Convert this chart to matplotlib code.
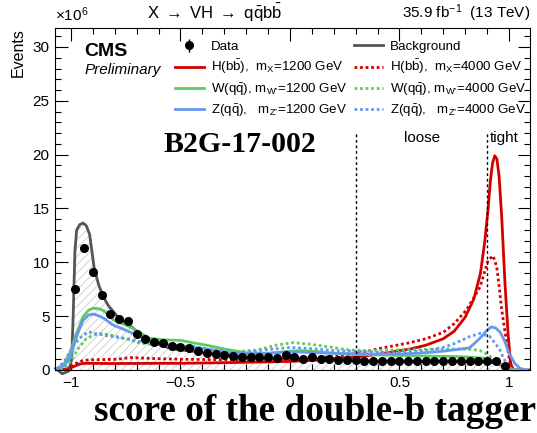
import numpy as np
import matplotlib
matplotlib.use("Agg")
import matplotlib.pyplot as plt

plt.rcParams['font.family'] = ['Liberation Sans', 'DejaVu Sans']
plt.rcParams['mathtext.fontset'] = 'custom'
plt.rcParams['mathtext.rm'] = 'Liberation Sans'
plt.rcParams['mathtext.it'] = 'Liberation Sans:italic'
plt.rcParams['mathtext.bf'] = 'Liberation Sans:bold'
plt.rcParams['hatch.linewidth'] = 0.6

# data points (bin centres, in units of 1e6 events)
data_x = np.round(np.arange(-0.98, 1.0, 0.04), 2)
data_y = [7.5, 11.35, 9.1, 6.95, 5.17, 4.7, 4.55, 3.34, 2.9, 2.57,
          2.54, 2.23, 2.1, 2.03, 1.77, 1.62, 1.52, 1.4, 1.33, 1.24,
          1.18, 1.2, 1.18, 1.12, 1.35, 1.18, 1.0, 1.18, 1.02, 0.99,
          0.93, 0.9, 0.9, 0.85, 0.86, 0.85, 0.85, 0.84, 0.85, 0.84,
          0.84, 0.84, 0.85, 0.85, 0.84, 0.85, 0.86, 0.86, 0.86, 0.37]

# background
bkg_x = [-1.07, -1.04, -1.01, -0.997, -0.99, -0.982, -0.974, -0.96, -0.945, -0.93,
         -0.915, -0.895, -0.875, -0.855, -0.83, -0.81, -0.785, -0.76, -0.74, -0.715,
         -0.69, -0.67, -0.64, -0.61, -0.56, -0.52, -0.45, -0.4, -0.3, -0.2,
         -0.1, 0.0, 0.1, 0.2, 0.3, 0.4, 0.5, 0.6, 0.7, 0.8,
         0.9, 0.94, 0.97, 0.99, 1.01, 1.04]
bkg_y = [0.15, -0.35, -0.1, 1.0, 5.0, 11.0, 13.0, 13.5, 13.65, 13.4,
         12.6, 9.6, 8.0, 6.9, 6.0, 5.5, 4.9, 4.5, 4.25, 3.87,
         3.4, 3.1, 2.7, 2.45, 2.1, 1.92, 1.75, 1.62, 1.38, 1.18,
         1.05, 1.0, 0.95, 0.9, 0.85, 0.82, 0.8, 0.79, 0.78, 0.77,
         0.75, 0.65, 0.4, 0.15, 0.02, 0.0]

# H(bb), mX = 1200 GeV
h1_x = [-1.05, -1.02, -0.99, -0.96, -0.94, -0.8, -0.6, -0.5, -0.3, -0.1,
        0.0, 0.1, 0.2, 0.3, 0.4, 0.47, 0.55, 0.62, 0.70, 0.75,
        0.80, 0.84, 0.87, 0.89, 0.905, 0.915, 0.925, 0.935, 0.945, 0.955,
        0.967, 0.982, 0.997, 1.008, 1.02, 1.1]
h1_y = [0.0, 0.1, 0.3, 0.55, 0.62, 0.6, 0.62, 0.62, 0.68, 0.75,
        0.8, 0.9, 1.05, 1.2, 1.45, 1.7, 1.95, 2.3, 2.9, 3.6,
        4.9, 6.6, 9.0, 12.0, 15.0, 17.5, 19.2, 19.9, 19.6, 18.0,
        14.2, 8.0, 3.1, 0.6, 0.0, 0.0]

# H(bb), mX = 4000 GeV
h4_x = [-1.05, -1.02, -0.99, -0.944, -0.9, -0.79, -0.73, -0.6, -0.5, -0.3,
        -0.09, 0.06, 0.21, 0.32, 0.41, 0.548, 0.62, 0.70, 0.75, 0.807,
        0.868, 0.905, 0.928, 0.944, 0.955, 0.967, 0.98, 0.99, 1.005, 1.02]
h4_y = [0.0, 0.15, 0.5, 0.9, 0.95, 1.0, 1.15, 1.05, 1.0, 0.95,
        1.0, 1.1, 1.25, 1.6, 2.0, 2.54, 2.9, 3.5, 4.3, 5.6,
        7.7, 10.2, 10.6, 9.6, 7.8, 5.6, 3.8, 2.5, 0.6, 0.0]

# W(qq), mW' = 1200 GeV
w1_x = [-1.065, -1.03, -1.005, -0.975, -0.945, -0.92, -0.90, -0.875, -0.85, -0.81,
        -0.78, -0.75, -0.70, -0.64, -0.58, -0.50, -0.45, -0.38, -0.30, -0.20,
        -0.10, 0.0, 0.05, 0.10, 0.20, 0.30, 0.40, 0.50, 0.60, 0.70,
        0.78, 0.85, 0.90, 0.94, 0.97, 0.99, 1.02, 1.06]
w1_y = [0.1, 0.6, 1.6, 3.4, 4.95, 5.55, 5.73, 5.7, 5.5, 4.7,
        4.4, 4.2, 3.65, 2.95, 2.8, 2.75, 2.55, 2.3, 1.95, 1.6,
        1.55, 1.75, 1.8, 1.75, 1.55, 1.45, 1.4, 1.35, 1.3, 1.27,
        1.24, 1.15, 1.08, 0.8, 0.45, 0.25, 0.03, 0.0]

# W(qq), mW' = 4000 GeV
w4_x = [-1.05, -1.02, -0.99, -0.96, -0.93, -0.90, -0.87, -0.83, -0.79, -0.74,
        -0.685, -0.6, -0.5, -0.45, -0.35, -0.25, -0.15, -0.06, 0.015, 0.09,
        0.18, 0.27, 0.365, 0.47, 0.62, 0.776, 0.836, 0.868, 0.898, 0.944,
        0.975, 1.0, 1.03]
w4_y = [0.05, 0.3, 1.2, 2.2, 2.9, 3.2, 3.4, 3.3, 3.1, 2.85,
        2.5, 2.3, 2.25, 2.2, 1.9, 1.7, 1.85, 2.32, 2.54, 2.4,
        2.14, 1.86, 1.8, 1.86, 1.92, 1.96, 1.9, 1.8, 1.48, 0.87,
        0.4, 0.1, 0.0]

# Z(qq), mZ' = 1200 GeV
z1_x = [-1.065, -1.03, -1.005, -0.975, -0.945, -0.92, -0.90, -0.875, -0.85, -0.81,
        -0.75, -0.685, -0.64, -0.56, -0.50, -0.45, -0.365, -0.27, -0.18, -0.09,
        0.0, 0.1, 0.2, 0.3, 0.4, 0.5, 0.62, 0.70, 0.745, 0.82,
        0.87, 0.9, 0.92, 0.94, 0.96, 0.98, 1.0, 1.027, 1.05, 1.08]
z1_y = [0.1, 0.4, 1.1, 3.1, 4.6, 5.1, 5.2, 5.05, 4.8, 4.2,
        3.7, 3.1, 2.7, 2.4, 2.25, 2.15, 1.9, 1.6, 1.5, 1.55,
        1.7, 1.62, 1.55, 1.5, 1.48, 1.48, 1.6, 1.75, 1.86, 2.05,
        3.0, 3.7, 4.0, 3.9, 3.5, 2.7, 1.6, 0.6, 0.15, 0.0]

# Z(qq), mZ' = 4000 GeV
z4_x = [-1.065, -1.03, -1.01, -0.99, -0.96, -0.92, -0.87, -0.81, -0.73, -0.654,
        -0.578, -0.50, -0.457, -0.365, -0.24, -0.12, 0.0, 0.09, 0.2, 0.3,
        0.47, 0.62, 0.70, 0.745, 0.82, 0.868, 0.913, 0.94, 0.959, 0.975,
        0.99, 1.01, 1.03]
z4_y = [0.1, 0.8, 1.5, 2.2, 2.95, 3.55, 3.3, 3.1, 2.85, 2.5,
        2.3, 2.17, 2.15, 1.85, 1.6, 1.85, 2.1, 2.0, 1.8, 1.75,
        1.6, 1.8, 2.1, 2.4, 3.1, 3.4, 3.1, 2.4, 1.86, 1.1,
        0.6, 0.1, 0.0]

cut_loose = 0.3
cut_tight = 0.9

RED = '#d40000'
GREEN = '#5fcc5f'
BLUE = '#6699ee'
GRAY = '#555555'

fig = plt.figure(figsize=(5.37, 4.33), dpi=100)
ax = fig.add_axes([0.1024, 0.1455, 0.8845, 0.7898])

ax.fill_between(bkg_x, 0, np.clip(bkg_y, 0, None), facecolor='none',
                edgecolor='#cccccc', hatch='////', linewidth=0)
bkg_line, = ax.plot(bkg_x, bkg_y, color=GRAY, lw=2, clip_on=False)

dot = (0, (1, 1))
h1, = ax.plot(h1_x, h1_y, color=RED, lw=2)
h4, = ax.plot(h4_x, h4_y, color=RED, lw=2, ls=dot)
w1, = ax.plot(w1_x, w1_y, color=GREEN, lw=2)
w4, = ax.plot(w4_x, w4_y, color=GREEN, lw=2, ls=dot)
z1, = ax.plot(z1_x, z1_y, color=BLUE, lw=2)
z4, = ax.plot(z4_x, z4_y, color=BLUE, lw=2, ls=dot)

data = ax.errorbar(data_x, data_y, yerr=np.zeros(len(data_y)), fmt='o',
                   color='black', ms=5.5, elinewidth=1, capsize=0, zorder=5)

ax.plot([cut_loose, cut_loose], [0, 22], color='black', lw=1, ls=(0, (2, 2)))
ax.plot([cut_tight, cut_tight], [0, 22], color='black', lw=1, ls=(0, (2, 2)))
ax.text(0.603, 21.5, 'loose', ha='center', va='center', fontsize=11)
ax.text(0.978, 21.5, 'tight', ha='center', va='center', fontsize=11)

ax.set_xlim(-1.073, 1.096)
ax.set_ylim(0, 31.76)
ax.set_xticks([-1, -0.5, 0, 0.5, 1])
ax.set_xticklabels(['\u22121', '\u22120.5', '0', '0.5', '1'])
ax.set_xticks(np.arange(-1.0, 1.05, 0.1), minor=True)
ax.set_yticks([0, 5, 10, 15, 20, 25, 30])
ax.set_yticks(np.arange(0, 32, 1), minor=True)
ax.tick_params(which='both', direction='in', top=True, right=True, labelsize=11)
ax.tick_params(which='major', length=9, width=0.8)
ax.tick_params(which='minor', length=4.5, width=0.8)
ax.tick_params(axis='x', pad=4)
ax.tick_params(axis='y', pad=4)

fig.text(0.034, 0.935, 'Events', rotation=90, ha='center', va='top', fontsize=11.5)
fig.text(0.103, 0.945, r'$\times$10$^{6}$', ha='left', va='bottom', fontsize=11)
fig.text(0.40, 0.945, r'X $\rightarrow$ VH $\rightarrow$ $\mathrm{q\bar{q}b\bar{b}}$',
         ha='center', va='bottom', fontsize=12)
fig.text(0.987, 0.945, r'35.9 fb$^{-1}$  (13 TeV)', ha='right', va='bottom', fontsize=11)

ax.text(0.062, 0.957, 'CMS', transform=ax.transAxes, fontsize=14,
        fontweight='bold', ha='left', va='top')
ax.text(0.062, 0.897, 'Preliminary', transform=ax.transAxes, fontsize=11,
        style='italic', ha='left', va='top')
ax.text(0.39, 0.658, 'B2G-17-002', transform=ax.transAxes, fontsize=21.5,
        fontweight='bold', family='Liberation Serif', ha='center', va='center')

fig.text(0.587, 0.028, 'score of the double-b tagger', ha='center', va='baseline',
         fontsize=26.8, fontweight='bold', family='Liberation Serif')

handles = [data, h1, w1, z1, bkg_line, h4, w4, z4]
labels = ['Data',
          r'H($\mathrm{b\bar{b}}$),  m$_{\mathrm{X}}$=1200 GeV',
          "W($\\mathrm{q\\bar{q}}$), m$_{\\mathrm{W\u2019}}$=1200 GeV",
          "Z($\\mathrm{q\\bar{q}}$),   m$_{\\mathrm{Z\u2019}}$=1200 GeV",
          'Background',
          r'H($\mathrm{b\bar{b}}$),  m$_{\mathrm{X}}$=4000 GeV',
          "W($\\mathrm{q\\bar{q}}$), m$_{\\mathrm{W\u2019}}$=4000 GeV",
          "Z($\\mathrm{q\\bar{q}}$),   m$_{\\mathrm{Z\u2019}}$=4000 GeV"]
fig.legend(handles, labels, ncol=2, loc='upper left',
           bbox_to_anchor=(0.32, 0.912), frameon=False, fontsize=9.6,
           handlelength=2.2, handletextpad=0.5, columnspacing=0.5,
           labelspacing=0.36, borderpad=0.2, borderaxespad=0)

fig.savefig('out.png', dpi=100)
